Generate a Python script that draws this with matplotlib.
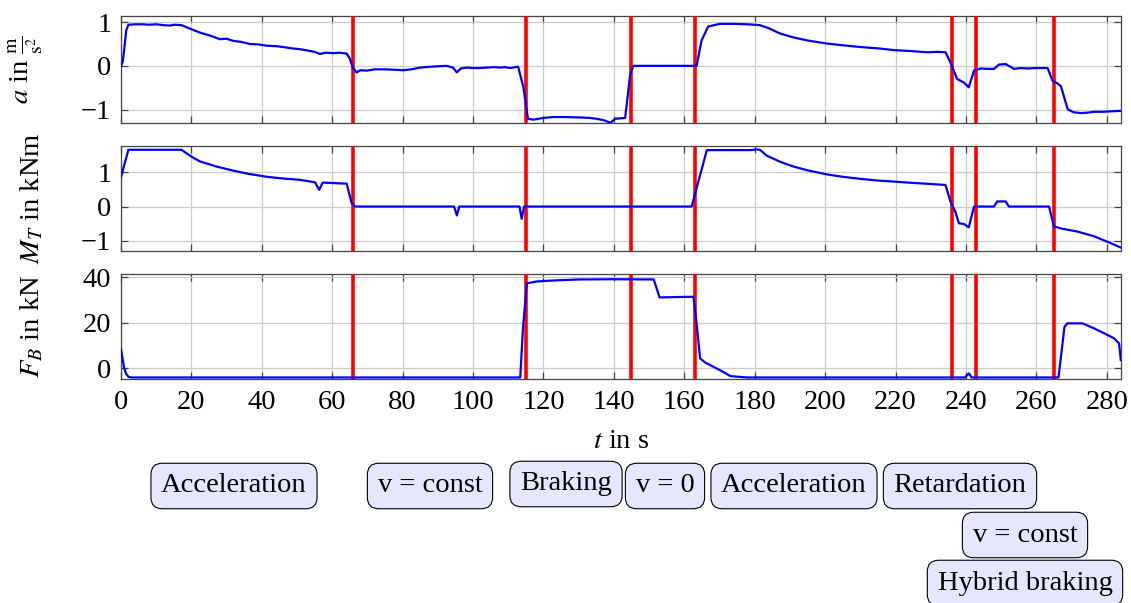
import matplotlib
matplotlib.use("Agg")
import matplotlib.pyplot as plt

plt.rcParams['font.family'] = ['Liberation Serif', 'DejaVu Serif']
plt.rcParams['mathtext.fontset'] = 'stix'
plt.rcParams['font.size'] = 20.5

# phase boundaries (s) and phase names
phase_lines = [66, 115, 145, 163, 236, 243, 265]
phase_names = ["Acceleration", "v = const", "Braking", "v = 0", "Acceleration",
               "Retardation", "v = const", "Hybrid braking"]

# acceleration a in m/s^2
t_acc = [0, 0.5, 1.0, 1.5, 2.1, 4, 6, 8, 10, 12, 13.9, 15, 17.2, 19.6, 22.4, 25, 28.1, 30,
         31.9, 34, 36.6, 39, 41.4, 44, 46.1, 48.5, 50.9, 53, 55, 56.5, 58, 60.3, 62, 64.1,
         65, 65.8, 66.9, 68, 69.8, 72, 75, 78, 80.2, 82.5, 84.9, 88, 90, 92.5, 94.3, 95.4,
         96.5, 98.2, 100, 102, 104, 106, 107.6, 109, 110.5, 112.8, 114.3, 115.6, 117.2,
         120, 122.8, 126, 130.4, 133, 135.1, 137, 139, 140.4, 143.2, 144.6, 145.5, 163.5,
         164.9, 166.8, 170.1, 174, 178, 181.5, 184, 187.2, 191, 195, 200.5, 205, 210, 215,
         219.5, 224, 229, 232, 234.2, 235.6, 237.5, 239.4, 240.8, 242.3, 244.2, 246, 248,
         249.4, 251.3, 253.7, 255.5, 257.5, 260, 263.2, 264.6, 266, 267, 268.9, 270.5,
         272.7, 274.5, 276.5, 279, 281, 284]
a_vals = [0, 0.1, 0.45, 0.82, 0.94, 0.95, 0.95, 0.94, 0.95, 0.93, 0.92, 0.94, 0.93, 0.85,
          0.76, 0.70, 0.61, 0.62, 0.57, 0.55, 0.50, 0.49, 0.46, 0.45, 0.43, 0.40, 0.38, 0.35,
          0.32, 0.27, 0.30, 0.29, 0.30, 0.28, 0.16, -0.03, -0.15, -0.10, -0.11, -0.08, -0.08,
          -0.09, -0.10, -0.08, -0.04, -0.02, -0.01, 0.0, -0.04, -0.15, -0.06, -0.04, -0.05,
          -0.05, -0.04, -0.03, -0.04, -0.03, -0.05, -0.02, -0.49, -1.21, -1.23, -1.19, -1.17,
          -1.17, -1.18, -1.19, -1.21, -1.24, -1.30, -1.21, -1.19, -0.22, 0.0, 0.0, 0.58, 0.90,
          0.96, 0.96, 0.95, 0.93, 0.86, 0.74, 0.65, 0.58, 0.51, 0.47, 0.43, 0.40, 0.36, 0.34,
          0.31, 0.32, 0.31, 0.08, -0.30, -0.38, -0.49, -0.11, -0.06, -0.07, -0.07, 0.03, 0.04,
          -0.07, -0.05, -0.06, -0.05, -0.05, -0.34, -0.40, -0.47, -0.99, -1.06, -1.08, -1.07,
          -1.05, -1.05, -1.04, -1.03]

# torque M_T in kNm
t_mom = [0, 2.1, 10, 17.2, 20, 22.4, 25, 27.1, 31.9, 36, 41.4, 46, 50.9, 55.1, 56.3, 57.3,
         64.1, 65.5, 66.5, 94.6, 95.4, 96.1, 113.2, 113.8, 114.5, 162.1, 166.4, 178.7,
         180.5, 181.5, 183.4, 187.2, 191, 195, 200.5, 205, 210, 215, 219.5, 225, 230, 234.2,
         235.6, 237, 238, 239.4, 240.8, 242.3, 248, 248.9, 251.3, 252.2, 263.6, 265, 266.9,
         271.6, 276.4, 281.1, 284]
m_vals = [0.87, 1.66, 1.66, 1.66, 1.46, 1.32, 1.24, 1.17, 1.05, 0.96, 0.87, 0.82, 0.78, 0.71,
          0.49, 0.70, 0.67, 0.10, 0.0, 0.0, -0.26, 0.0, 0.0, -0.36, 0.0, 0.0, 1.65, 1.65,
          1.67, 1.66, 1.49, 1.31, 1.17, 1.06, 0.94, 0.87, 0.81, 0.76, 0.73, 0.69, 0.66, 0.63,
          0.15, -0.15, -0.49, -0.51, -0.61, 0.0, 0.0, 0.15, 0.15, 0.0, 0.0, -0.58, -0.64,
          -0.73, -0.87, -1.07, -1.2]

# brake force F_B in kN
t_brk = [0, 0.9, 1.5, 2.1, 3, 113.4, 114.2, 115.3, 118, 121, 125, 130.4, 139.9, 151.3, 153,
         162.6, 163.4, 164.5, 166, 168.3, 171, 173.1, 177.8, 239.7, 240.9, 241.6, 266.3,
         268, 268.8, 273.1, 276.4, 279.3, 282.1, 283.5, 284]
f_vals = [8.4, 0.0, -2.5, -3.7, -4.0, -4.0, 18.3, 37.4, 38.2, 38.5, 38.8, 39.1, 39.2, 39.1,
          31.2, 31.5, 21.2, 4.4, 2.5, 0.7, -1.5, -3.4, -4.0, -4.0, -2.2, -4.0, -4.0, 18.3,
          19.8, 19.8, 17.6, 15.4, 13.2, 11.0, 3.6]

fig = plt.figure(figsize=(11.31, 6.03), dpi=100)
left, width = 0.107, 0.884
ax1 = fig.add_axes([left, 0.7965, width, 0.1770])
ax2 = fig.add_axes([left, 0.5838, width, 0.1746])
ax3 = fig.add_axes([left, 0.3710, width, 0.1746])

panels = [
    (ax1, t_acc, a_vals, (-1.3, 1.14), [-1, 0, 1], r"$a$ in $\frac{\mathrm{m}}{\mathrm{s}^2}$"),
    (ax2, t_mom, m_vals, (-1.3, 1.78), [-1, 0, 1], r"$M_T$ in kNm"),
    (ax3, t_brk, f_vals, (-4.8, 41.5), [0, 20, 40], r"$F_B$ in kN"),
]

for ax, t, v, ylim, yticks, ylabel in panels:
    ax.grid(True, color='#cccccc', linewidth=0.9)
    ax.set_axisbelow(True)
    for x in phase_lines:
        ax.axvline(x, color='red', linewidth=2.6, zorder=3)
    ax.plot(t, v, color='blue', linewidth=1.6, zorder=4)
    ax.set_xlim(0, 284)
    ax.set_ylim(*ylim)
    ax.set_xticks(range(0, 281, 20))
    ax.set_yticks(yticks)
    ax.tick_params(direction='in', top=True, right=True, length=5, width=0.9,
                   color='#444444', pad=7)
    ax.set_ylabel(ylabel)
    ax.yaxis.set_label_coords(-0.076, 0.5)
    for s in ax.spines.values():
        s.set_color('#444444')
        s.set_linewidth(0.9)

ax1.tick_params(labelbottom=False)
ax2.tick_params(labelbottom=False)
ax3.tick_params(axis='x', pad=8)
ax3.set_xlabel(r"$t$ in s", labelpad=10)

# phase label boxes (figure pixel centres)
box_pos = [(234, 486), (430, 486), (566, 484), (665, 486), (794, 486),
           (960, 486), (1025, 535), (1025, 583)]
for name, (px, py) in zip(phase_names, box_pos):
    fig.text(px / 1131, 1 - py / 603, name, ha='center', va='center',
             bbox=dict(boxstyle='round,pad=0.36,rounding_size=0.4', fc='#e6e6ff',
                       ec='black', lw=0.8))

fig.savefig("out.png", dpi=100)
